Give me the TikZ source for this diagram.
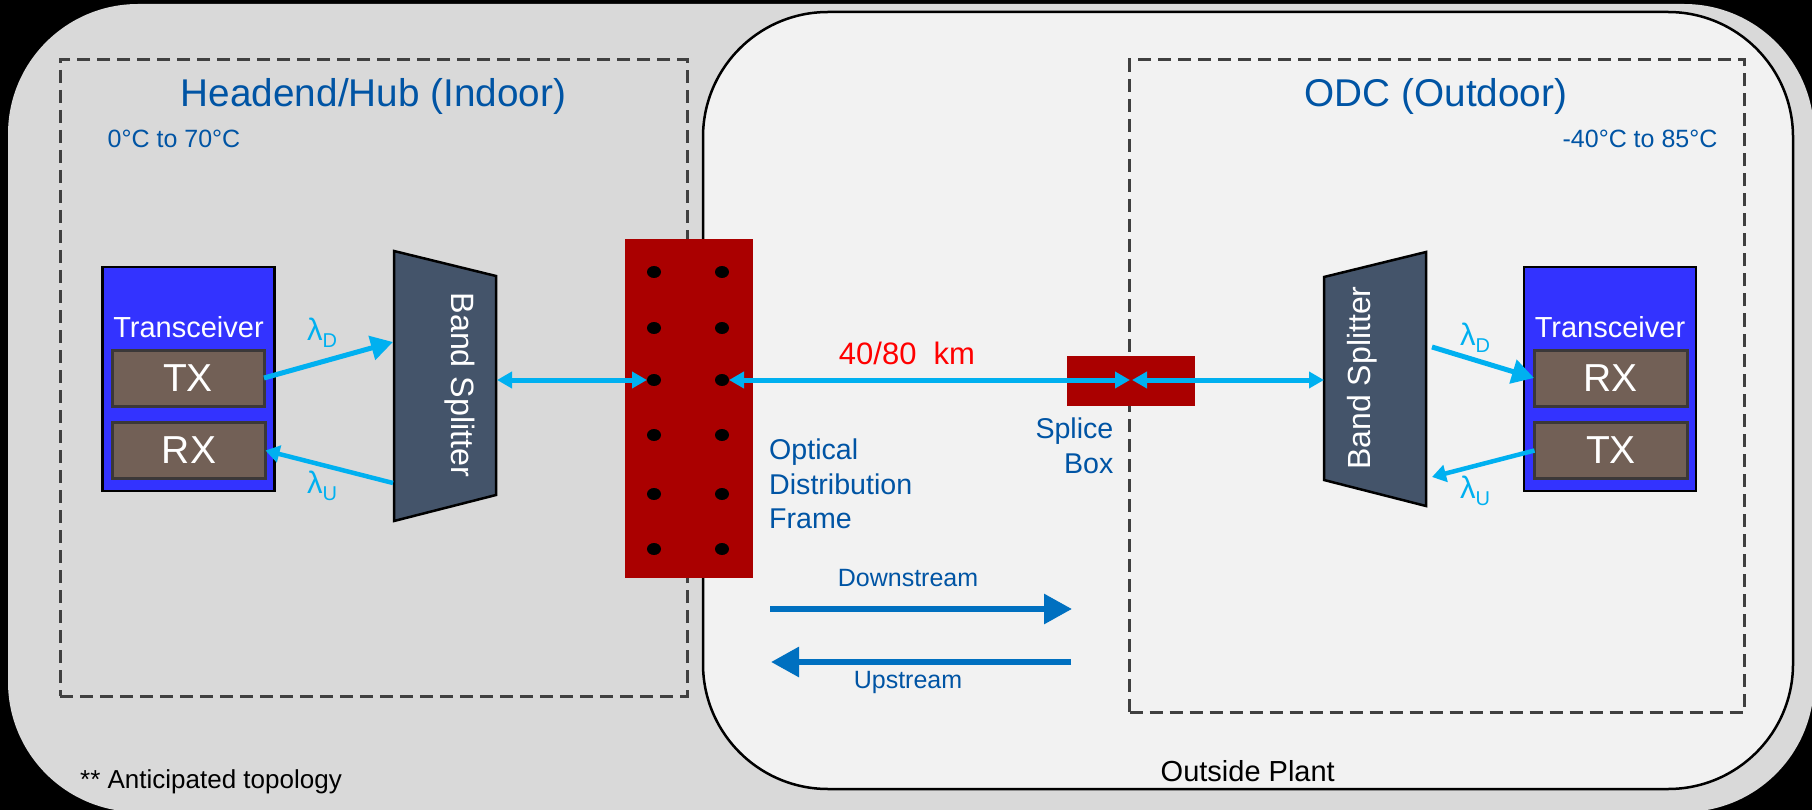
\documentclass[tikz,border=0pt]{standalone}
\usepackage{fontspec}
\setmainfont{Liberation Sans}
\usetikzlibrary{arrows.meta,shapes.geometric}
\newcommand\fs[1]{\fontsize{#1}{#1}\selectfont}
\newcommand\lam[1]{\fs{31}λ\raisebox{-7pt}{\fs{20}#1}}
\definecolor{zonegray}{HTML}{D9D9D9}
\definecolor{plantgray}{HTML}{F2F2F2}
\definecolor{dashgray}{HTML}{404040}
\definecolor{txtblue}{HTML}{0054A4}
\definecolor{flowblue}{HTML}{0070C0}
\definecolor{fibre}{HTML}{00B0F0}
\definecolor{frame}{HTML}{AA0000}
\definecolor{trx}{HTML}{3333FF}
\definecolor{txrx}{HTML}{726056}
\definecolor{txrxb}{HTML}{3B3838}
\definecolor{slate}{HTML}{44546A}
\tikzset{
  x=1pt,y=-1pt,
  zone/.style={draw=dashgray,line width=3pt,dash pattern=on 13pt off 7pt,inner sep=0,outer sep=0},
  trxbox/.style={draw=black,fill=trx,line width=2.5pt,inner sep=0,outer sep=0,minimum width=172pt,minimum height=224pt},
  portbox/.style={draw=txrxb,fill=txrx,line width=3pt,inner sep=0,outer sep=0,minimum width=153pt,minimum height=56pt},
  rackbox/.style={fill=frame,inner sep=0,outer sep=0},
  pin/.style={fill=black,ellipse,inner sep=0,outer sep=0,minimum width=14pt,minimum height=12pt},
  splitter/.style={draw=black,fill=slate,line width=2.5pt,line join=miter},
  title/.style={text=txtblue,font=\fs{38.7},anchor=base,inner sep=0},
  note/.style={text=txtblue,font=\fs{25},anchor=base,inner sep=0},
  white text/.style={text=white,anchor=base,inner sep=0},
  blue text/.style={text=txtblue,font=\fontsize{28.6}{34.5}\selectfont,inner sep=0},
  flow text/.style={text=txtblue,font=\fs{25},anchor=base,inner sep=0},
  black text/.style={text=black,anchor=base,inner sep=0},
  lamlabel/.style={text=fibre,anchor=base west,inner sep=0},
  bigfibre/.style={draw=fibre,line width=5pt,-{Triangle[length=22pt,width=24pt]}},
  smallfibre/.style={draw=fibre,line width=4.5pt,-{Triangle[length=14pt,width=17pt]}},
  link/.style={draw=fibre,line width=5pt,{Triangle[length=15pt,width=16pt]}-{Triangle[length=15pt,width=16pt]}},
  flow/.style={draw=flowblue,line width=6pt,-{Triangle[length=28pt,width=29pt]}},
}
\begin{document}
\begin{tikzpicture}
\useasboundingbox (0,0) rectangle (1812,810);
\clip (0,0) rectangle (1812,810);
\fill[black] (0,0) rectangle (1812,810);
\fill[zonegray,rounded corners=130pt] (8,4) rectangle (1814,812);
\draw[fill=plantgray,draw=black,line width=2.5pt,rounded corners=125pt] (703,12) rectangle (1793,789);

\node[zone,minimum width=627pt,minimum height=636pt] (indoor) at (373.5,378) {};
\node[zone,minimum width=614.5pt,minimum height=652pt] (outdoor) at (1436.75,386) {};

\node[title] (indoortitle) at (373.5,106.5) {Headend/Hub (Indoor)};
\node[title] (outdoortitle) at (1436,106.5) {ODC (Outdoor)};
\node[note] (indoortemp) at (174,148) {0°C to 70°C};
\node[note] (outdoortemp) at (1640,148) {-40°C to 85°C};

% left transceiver
\node[trxbox] (trxL) at (188.25,379) {};
\node[white text,font=\fs{29}] (trxLt) at (188.5,337) {Transceiver};
\node[portbox,minimum width=152pt] (txL) at (188,378) {};
\node[white text,font=\fs{39}] (txLt) at (188,391) {TX};
\node[portbox] (rxL) at (189,450.5) {};
\node[white text,font=\fs{39}] (rxLt) at (189,463) {RX};

% left splitter
\coordinate (sLa) at (394,251);
\coordinate (sLb) at (496,276);
\coordinate (sLc) at (496,495);
\coordinate (sLd) at (394,521);
\draw[splitter] (sLa) -- (sLb) -- (sLc) -- (sLd) -- cycle;
\node[text=white,font=\fs{32.3},rotate=-90,inner sep=0] (sLt) at (460,385) {Band Splitter};
\coordinate (sLin) at (393,342);
\coordinate (sLout) at (393,483);
\coordinate (sLr) at (497,380);

% rack
\node[rackbox,minimum width=128pt,minimum height=339pt] (odf) at (688.5,408.5) {};
\foreach \r/\y in {1/272,2/328,3/380,4/435,5/494,6/549}{
  \node[pin] (p\r a) at (654,\y) {};
  \node[pin] (p\r b) at (722,\y) {};
}
% splice
\node[rackbox,minimum width=128pt,minimum height=50pt] (splice) at (1131,381) {};
\coordinate (joint) at (1131,380);

% right splitter
\coordinate (sRa) at (1324,277);
\coordinate (sRb) at (1426,252);
\coordinate (sRc) at (1426,506);
\coordinate (sRd) at (1324,480);
\draw[splitter] (sRa) -- (sRb) -- (sRc) -- (sRd) -- cycle;
\node[text=white,font=\fs{32},rotate=90,inner sep=0] (sRt) at (1362,378) {Band Splitter};
\coordinate (sRout) at (1432,347);
\coordinate (sRin) at (1432,477);
\coordinate (sRl) at (1324,380);

% right transceiver
\node[trxbox] (trxR) at (1610,379) {};
\node[white text,font=\fs{29}] (trxRt) at (1610,337) {Transceiver};
\node[portbox] (rxR) at (1610.5,378) {};
\node[white text,font=\fs{39}] (rxRt) at (1610.5,391) {RX};
\node[portbox] (txR) at (1611,450.5) {};
\node[white text,font=\fs{39}] (txRt) at (1611,463) {TX};

% connectors
\draw[bigfibre] (txL.east) -- (sLin);
\draw[smallfibre] (sLout) -- (rxL.east);
\draw[link] (sLr) -- (p3a.west);
\draw[link] (p3b.east) -- ([xshift=-1pt]joint);
\draw[link] ([xshift=1pt]joint) -- (sRl);
\draw[bigfibre] (sRout) -- (rxR.west);
\draw[smallfibre] (txR.west) -- (sRin);

% labels
\node[lamlabel] (ldL) at (307,340) {\lam{D}};
\node[lamlabel] (luL) at (307,493) {\lam{U}};
\node[lamlabel] (ldR) at (1460,345) {\lam{D}};
\node[lamlabel] (luR) at (1460,498) {\lam{U}};
\node[text=red,font=\fs{31},anchor=base,inner sep=0] (dist) at (907,364) {40/80\ \ km};
\node[blue text,align=left,anchor=west] (odft) at (769,484) {Optical\\Distribution\\Frame};
\node[blue text,align=right,anchor=east] (splt) at (1113.6,446) {Splice\\Box};
\node[flow text] (dn) at (908,586) {Downstream};
\node[flow text] (up) at (908,688) {Upstream};
\coordinate (dnA) at (770,609);
\coordinate (dnB) at (1072,609);
\coordinate (upA) at (1071,662);
\coordinate (upB) at (771,662);
\draw[flow] (dnA) -- (dnB);
\draw[flow] (upA) -- (upB);
\node[black text,font=\fs{26},anchor=base west] (ant) at (80,788) {** Anticipated topology};
\node[black text,font=\fs{29},anchor=base west] (osp) at (1160.5,781) {Outside Plant};
\end{tikzpicture}
\end{document}
